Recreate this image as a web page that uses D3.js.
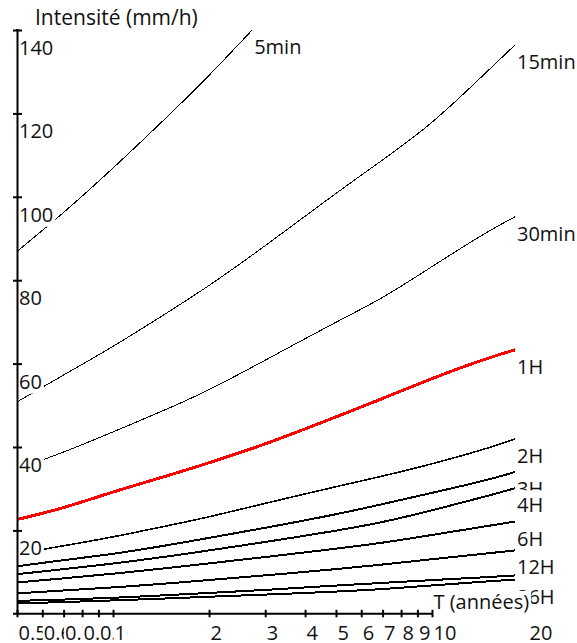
<!DOCTYPE html>
<html><head><meta charset="utf-8">
<script src="https://cdn.jsdelivr.net/npm/d3@7"></script>
<style>
html,body{margin:0;padding:0;background:#fff;}
svg{display:block;font-family:"Open Sans",sans-serif;}
</style></head><body>
<svg id="c" width="577" height="643"></svg>
<script>
// Return periods (years) at which values were read
const T = [0.5, 0.7, 1, 1.5, 2, 3, 5, 7, 10, 15, 18.2];
const T5min = [0.5, 0.7, 1, 1.5, 2, 2.73];

// Intensities (mm/h)
const i5min  = [86.9, 96.1, 106.8, 119.6, 129.0, 140];
const i15min = [50.8, 57.3, 64.0, 72.5, 78.6, 88.2, 100.9, 108.8, 117.4, 130.3, 136.4];
const i30min = [34.7, 38.7, 43.6, 49.3, 53.6, 60.8, 70.0, 75.6, 83.3, 91.8, 95.2];
const i1H    = [22.6, 25.3, 29.3, 33.2, 36.2, 40.6, 47.2, 51.6, 56.5, 61.4, 63.3];
const i2H    = [14.4, 16.3, 18.4, 21.2, 23.2, 26.5, 30.5, 33.0, 35.9, 39.7, 41.9];
const i3H    = [11.4, 12.9, 14.3, 16.5, 18.2, 20.6, 23.8, 26.3, 29.0, 32.1, 34.0];
const i4H    = [9.5, 10.7, 12.0, 13.8, 15.2, 17.2, 19.9, 21.9, 24.8, 28.3, 30.1];
const i6H    = [7.5, 8.5, 9.6, 11.0, 12.1, 13.6, 15.6, 17.0, 18.9, 21.1, 22.1];
const i12H   = [4.9, 5.6, 6.3, 7.3, 8.1, 9.2, 10.7, 11.8, 13.1, 14.5, 15.2];
const i24H   = [3.1, 3.4, 3.8, 4.5, 5.0, 5.7, 6.8, 7.4, 8.1, 8.8, 9.2];
const i36H   = [2.5, 2.8, 3.2, 3.7, 4.1, 4.6, 5.3, 5.9, 6.8, 7.8, 8.2];

const seriesNames = ["5min","15min","30min","1H","2H","3H","4H","6H","12H","24H","36H"];

const yTicks = [20, 40, 60, 80, 100, 120, 140];
const xTicks = [0.5, 0.6, 0.7, 0.8, 0.9, 1, 2, 3, 4, 5, 6, 7, 8, 9, 10];
const xTickLabels = ["0.5","0.6","0.7","0.8","0.9","1","2","3","4","5","6","7","8","9","10","20"];
const xLabelValues = [0.5, 0.6, 0.7, 0.8, 0.9, 1, 2, 3, 4, 5, 6, 7, 8, 9, 10, 20];

const yTitle = "Intensité (mm/h)";
const xTitle = "T (années)";

// ---- build
const values = [i5min,i15min,i30min,i1H,i2H,i3H,i4H,i6H,i12H,i24H,i36H];
const series = seriesNames.map((n,k)=>({name:n, T: k===0 ? T5min : T, v: values[k]}));
const styleOf = n => {
  if (n === "1H") return {color:"#ff0000", w:3};
  if (n === "5min" || n === "15min" || n === "30min") return {color:"#000", w:1};
  if (n === "2H") return {color:"#000", w:1.6};
  return {color:"#000", w:2};
};

const svg = d3.select("#c");
const x = d3.scaleLog().domain([0.5, 10]).range([17, 432]);
const y = d3.scaleLinear().domain([0, 140]).range([613.8, 30]);

const line = d3.line().x(d=>x(d[0])).y(d=>y(d[1])).curve(d3.curveBasis);

const gCurves = svg.append("g");
series.forEach(s=>{
  const st = styleOf(s.name);
  gCurves.append("path")
    .datum(s.T.map((t,i)=>[t, s.v[i]]))
    .attr("d", line)
    .attr("fill","none")
    .attr("stroke", st.color)
    .attr("stroke-width", st.w)
    .attr("shape-rendering","crispEdges");
});

const FS = 20;
function boxLabel(g, tx, ty, text, padL, padR, top, bottom, fs) {
  const r = g.append("rect").attr("fill","#fff");
  const t = g.append("text").attr("x",tx).attr("y",ty)
    .attr("font-size", fs||FS).attr("fill","#111").text(text);
  const w = t.node().getComputedTextLength();
  r.attr("x", tx-padL).attr("y", ty+top).attr("width", w+padL+padR).attr("height", bottom-top);
}

// y tick labels
const gY = svg.append("g");
yTicks.forEach(v=>{
  boxLabel(gY, 19, y(v)+25, String(v), 1, 2, -21, 5);
});

// right end labels
const gR = svg.append("g");
series.forEach(s=>{
  const n = s.T.length-1;
  const ex = x(s.T[n]), ey = y(s.v[n]);
  boxLabel(gR, ex+2, ey+24, s.name, 1, 2, -22, 5);
});

// x title
boxLabel(svg.append("g"), x(10)+1.5, 609, xTitle, 1.5, 2, -18, 4);

// x tick labels
const gX = svg.append("g");
xLabelValues.forEach((t,i)=>{
  boxLabel(gX, x(t)+1.5, 640, xTickLabels[i], 1, 1, -21, 4);
});

// y title
svg.append("text").attr("x",35).attr("y",25).attr("font-size",21).attr("fill","#111").text(yTitle);

// axes
const yAxis = d3.axisLeft(y).tickValues(yTicks).tickFormat("").tickSizeOuter(0).tickSizeInner(0);
const gya = svg.append("g").attr("transform","translate(17.5,0)").call(yAxis);
gya.select(".domain").remove();
gya.append("line").attr("x1",0).attr("x2",0).attr("y1",y(140)-1).attr("y2",y(0)+1)
  .attr("stroke","#000").attr("stroke-width",2);
gya.selectAll(".tick line").attr("x1",-4.5).attr("x2",4.5).attr("stroke","#000").attr("stroke-width",2);

const xAxis = d3.axisBottom(x).tickValues(xTicks).tickFormat("").tickSizeOuter(0).tickSizeInner(0);
const gxa = svg.append("g").attr("transform","translate(0,613.8)").call(xAxis);
gxa.select(".domain").remove();
gxa.append("line").attr("x1",13).attr("x2",x(10)).attr("y1",0).attr("y2",0)
  .attr("stroke","#000").attr("stroke-width",2);
gxa.selectAll(".tick line").attr("y1",-4).attr("y2",3.5).attr("stroke","#000").attr("stroke-width",2);
</script>
</body></html>
